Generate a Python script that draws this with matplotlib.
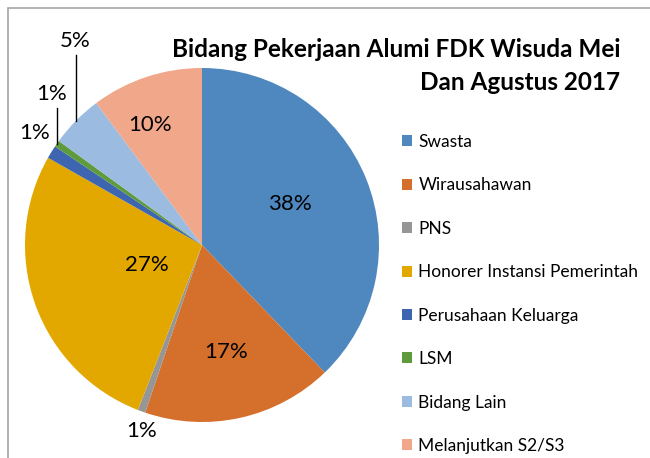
import numpy as np
import matplotlib
matplotlib.use('Agg')
import matplotlib.pyplot as plt
from matplotlib.patches import Rectangle

plt.rcParams['font.family'] = ['Lato', 'DejaVu Sans']

categories = ['Swasta', 'Wirausahawan', 'PNS', 'Honorer Instansi Pemerintah',
              'Perusahaan Keluarga', 'LSM', 'Bidang Lain', 'Melanjutkan S2/S3']
shares = [37.8, 17.4, 0.7, 27.3, 1.2, 0.6, 4.8, 10.2]
colors = ['#4F88BF', '#D56F2C', '#969696', '#E3A800',
          '#3E65B0', '#5F9B3D', '#9BBBE0', '#F0A78A']

fig = plt.figure(figsize=(6.5, 4.58), dpi=100)
ax = fig.add_axes([25 / 650, 36 / 458, 354 / 650, 354 / 458])
wedges, _ = ax.pie(shares, colors=colors, startangle=90, counterclock=False,
                   radius=1.0, wedgeprops=dict(linewidth=0))
ax.set_xlim(-1, 1)
ax.set_ylim(-1, 1)
ax.set_aspect('equal')
ax.axis('off')

# inside labels: (radius, angle shift); outside: offset from the rim point
inside = {0: (0.55, 3), 1: (0.62, 0), 3: (0.33, 0), 7: (0.74, 5)}
outside = {2: (0.0, -0.11, False), 4: (-0.096, 0.108, False),
           5: (-0.03, 0.28, True), 6: (-0.005, 0.45, True)}

for i, w in enumerate(wedges):
    mid = np.deg2rad((w.theta1 + w.theta2) / 2)
    txt = '%.0f%%' % shares[i]
    if i in inside:
        r, shift = inside[i]
        a = mid + np.deg2rad(shift)
        ax.text(r * np.cos(a), r * np.sin(a), txt, ha='center', va='center',
                fontsize=16, color='black')
    else:
        dx, dy, line = outside[i]
        rx, ry = np.cos(mid), np.sin(mid)
        ax.text(rx + dx, ry + dy, txt, ha='center', va='center',
                fontsize=16, color='black')
        if line:
            ax.plot([rx, rx], [ry, ry + dy - 0.08], color='black', lw=1,
                    clip_on=False)

fig.text(620 / 650, 1 - 66 / 458, 'Bidang Pekerjaan Alumi FDK Wisuda Mei\nDan Agustus 2017',
         ha='right', va='center', fontsize=17.5, fontweight='bold',
         multialignment='right', linespacing=1.56)

fig.legend(wedges, categories, loc='upper left',
           bbox_to_anchor=(395 / 650, 1 - 127 / 458), frameon=False,
           fontsize=12.5, labelspacing=1.58, handlelength=0.6, handleheight=0.6,
           handletextpad=0.35, borderaxespad=0)

fig.patches.append(Rectangle((8 / 650, -0.2), 1.2, 1.2 - 8 / 458,
                             transform=fig.transFigure, fill=False,
                             edgecolor='#A6A6A6', linewidth=1.2))

fig.savefig('out.png', dpi=100)
